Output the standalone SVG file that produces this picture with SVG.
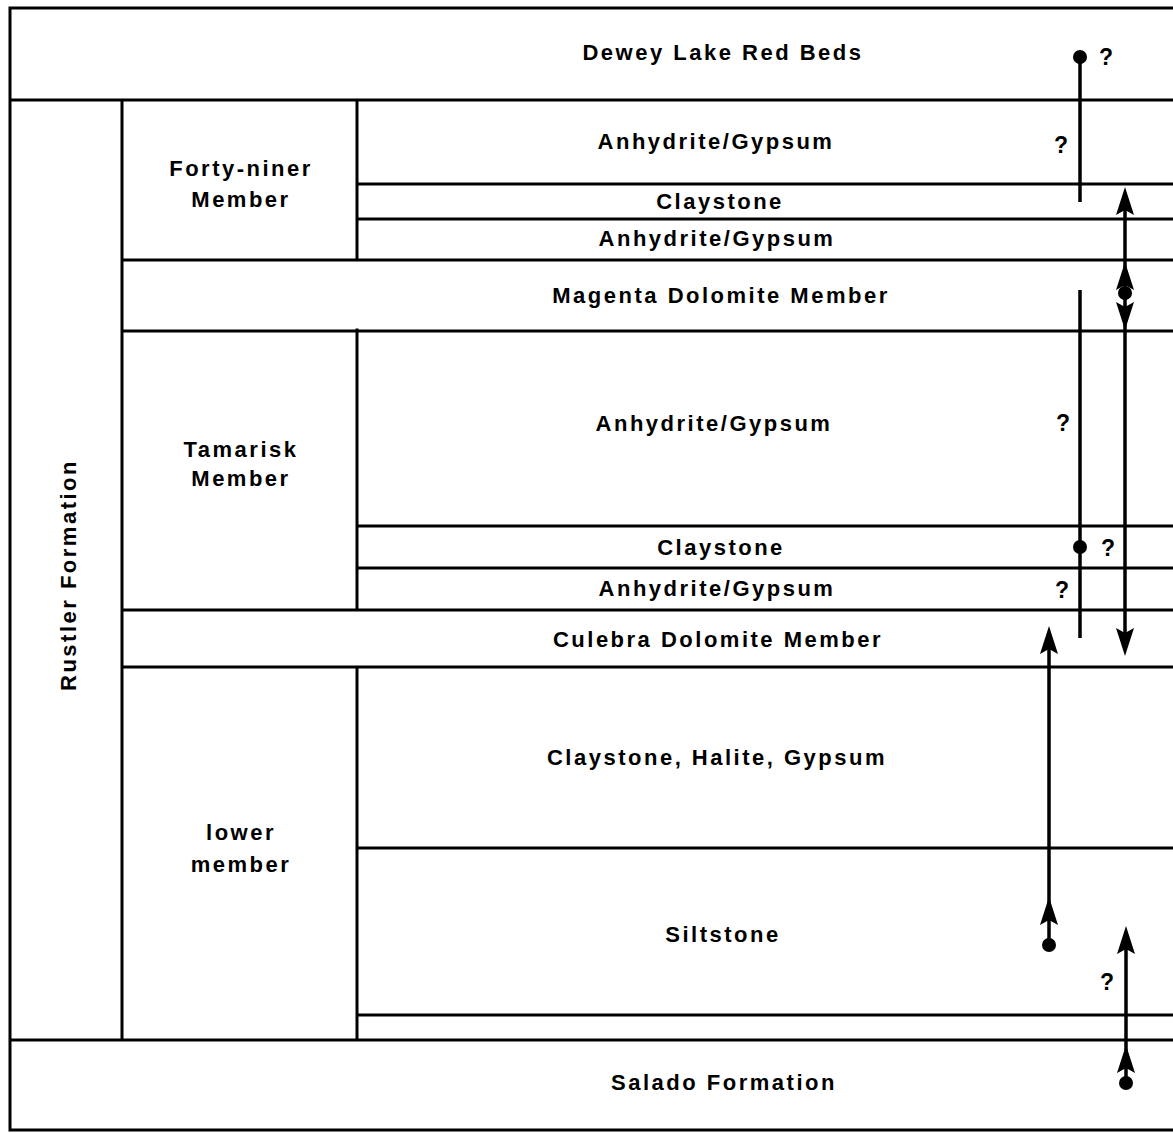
<svg xmlns="http://www.w3.org/2000/svg" width="1173" height="1133" viewBox="0 0 1173 1133">
<style>
.ln{stroke:#000;stroke-width:3;fill:none;stroke-linecap:square}
.t{font-family:"Liberation Sans",Arial,sans-serif;font-weight:bold;font-size:22px;letter-spacing:2.5px;text-anchor:middle;fill:#000}
.q{font-family:"Liberation Sans",Arial,sans-serif;font-weight:bold;font-size:23px;text-anchor:middle;fill:#000}
.ar{stroke:#000;stroke-width:3.5;fill:none}
</style>
<defs>
<path id="up" d="M0,0 L-9,28 L0,23 L9,28 Z" fill="#000"/>
<path id="dn" d="M0,0 L-9,-28 L0,-23 L9,-28 Z" fill="#000"/>
</defs>
<rect width="1173" height="1133" fill="#fff"/>
<g id="frame">
<path class="ln" d="M10,8 H1173 M10,8 V1130 H1173 M10,100 H1173 M122,100 V1040 M357,100 V260 M357,330 V610 M357,667 V1040 M357,184 H1173 M357,219 H1173 M122,260 H1173 M122,331 H1173 M357,526 H1173 M357,568 H1173 M122,610 H1173 M122,667 H1173 M357,848 H1173 M357,1015 H1173 M10,1040 H1173"/>
</g>
<g id="dewey"><text class="t" x="723" y="60">Dewey Lake Red Beds</text></g>
<g id="rustler"><text class="t" transform="translate(76,575) rotate(-90)" x="0" y="0">Rustler Formation</text></g>
<g id="fortyniner"><text class="t" x="241" y="176">Forty-niner</text><text class="t" x="241" y="207">Member</text></g>
<g id="fn-anh1"><text class="t" x="716" y="149">Anhydrite/Gypsum</text></g>
<g id="fn-clay"><text class="t" x="720" y="209">Claystone</text></g>
<g id="fn-anh2"><text class="t" x="717" y="246">Anhydrite/Gypsum</text></g>
<g id="magenta"><text class="t" x="721" y="303">Magenta Dolomite Member</text></g>
<g id="tamarisk"><text class="t" x="241" y="457">Tamarisk</text><text class="t" x="241" y="486">Member</text></g>
<g id="tm-anh1"><text class="t" x="714" y="431">Anhydrite/Gypsum</text></g>
<g id="tm-clay"><text class="t" x="721" y="555">Claystone</text></g>
<g id="tm-anh2"><text class="t" x="717" y="596">Anhydrite/Gypsum</text></g>
<g id="culebra"><text class="t" x="718" y="647">Culebra Dolomite Member</text></g>
<g id="lower"><text class="t" x="241" y="840">lower</text><text class="t" x="241" y="872">member</text></g>
<g id="lm-clay"><text class="t" x="717" y="765">Claystone, Halite, Gypsum</text></g>
<g id="lm-silt"><text class="t" x="723" y="942">Siltstone</text></g>
<g id="salado"><text class="t" x="724" y="1090">Salado Formation</text></g>
<g id="connectors">
<line class="ar" x1="1080" y1="57" x2="1080" y2="202"/>
<circle cx="1080" cy="57" r="7"/>
<text class="q" x="1106" y="65">?</text>
<text class="q" x="1061" y="153">?</text>
<line class="ar" x1="1125" y1="200" x2="1125" y2="640"/>
<use href="#up" x="1125" y="187"/>
<use href="#up" x="1125" y="262"/>
<circle cx="1125" cy="293" r="7"/>
<use href="#dn" x="1125" y="330"/>
<use href="#dn" x="1125" y="656"/>
<line class="ar" x1="1080" y1="290" x2="1080" y2="638"/>
<circle cx="1080" cy="547" r="7"/>
<text class="q" x="1063" y="431">?</text>
<text class="q" x="1108" y="556">?</text>
<text class="q" x="1062" y="598">?</text>
<line class="ar" x1="1049" y1="640" x2="1049" y2="945"/>
<use href="#up" x="1049" y="626"/>
<use href="#up" x="1049" y="897"/>
<circle cx="1049" cy="945" r="7"/>
<line class="ar" x1="1126" y1="940" x2="1126" y2="1083"/>
<use href="#up" x="1126" y="926"/>
<use href="#up" x="1126" y="1045"/>
<circle cx="1126" cy="1083" r="7"/>
<text class="q" x="1107" y="990">?</text>
</g>
</svg>
